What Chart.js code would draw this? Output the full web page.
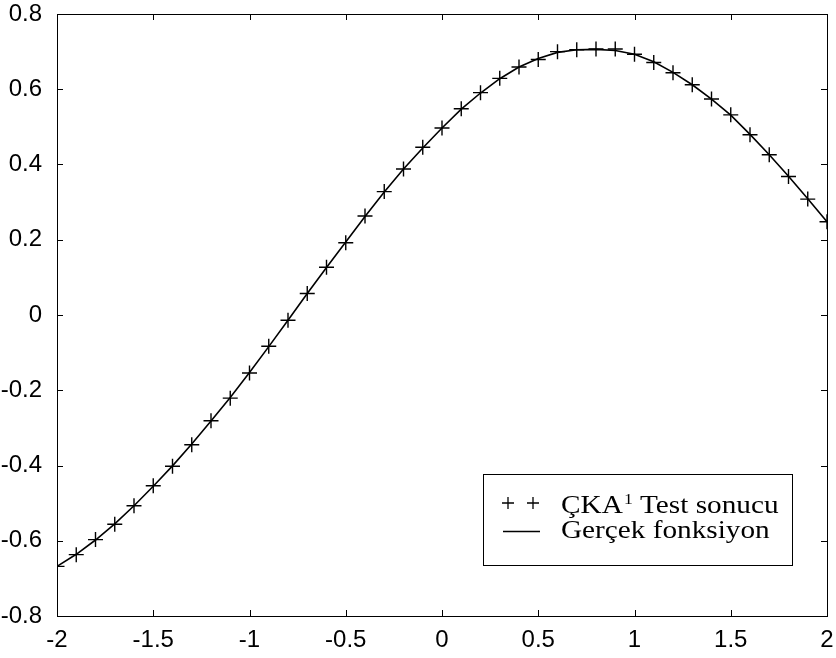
<!DOCTYPE html>
<html>
<head>
<meta charset="utf-8">
<script src="https://cdn.jsdelivr.net/npm/chart.js@4/dist/chart.umd.min.js"></script>
<style>
  html, body { margin: 0; padding: 0; background: #fff; }
  #c { display: block; }
</style>
</head>
<body>
<canvas id="c" width="836" height="658"></canvas>
<script>
// x positions of the test points
const xVals = [
  -2.0, -1.9, -1.8, -1.7, -1.6, -1.5, -1.4, -1.3, -1.2, -1.1,
  -1.0, -0.9, -0.8, -0.7, -0.6, -0.5, -0.4, -0.3, -0.2, -0.1,
   0.0,  0.1,  0.2,  0.3,  0.4,  0.5,  0.6,  0.7,  0.8,  0.9,
   1.0,  1.1,  1.2,  1.3,  1.4,  1.5,  1.6,  1.7,  1.8,  1.9, 2.0
];
// ÇKA test result (+ markers)
const testY = [
  -0.668, -0.637, -0.597, -0.556, -0.507, -0.454, -0.402, -0.345, -0.281, -0.221,
  -0.154, -0.083, -0.014,  0.057,  0.127,  0.192,  0.263,  0.328,  0.388,  0.446,
   0.497,  0.548,  0.591,  0.629,  0.659,  0.679,  0.700,  0.705,  0.707,  0.707,
   0.693,  0.671,  0.644,  0.612,  0.574,  0.532,  0.479,  0.426,  0.368,  0.308, 0.248
];
// real function (solid line)
const realY = [
  -0.668, -0.636, -0.598, -0.555, -0.507, -0.455, -0.401, -0.343, -0.282, -0.219,
  -0.153, -0.084, -0.014,  0.057,  0.126,  0.194,  0.262,  0.327,  0.388,  0.444,
   0.497,  0.547,  0.590,  0.628,  0.659,  0.682,  0.698,  0.705,  0.706,  0.703,
   0.693,  0.673,  0.645,  0.612,  0.574,  0.531,  0.480,  0.426,  0.369,  0.309, 0.248
];
const xTicks = [-2, -1.5, -1, -0.5, 0, 0.5, 1, 1.5, 2];
const yTicks = [-0.8, -0.6, -0.4, -0.2, 0, 0.2, 0.4, 0.6, 0.8];

const legendItems = ['ÇKA', '1', ' Test sonucu', 'Gerçek fonksiyon'];

const pts = (ys) => xVals.map((x, i) => ({ x, y: ys[i] }));
const fmt = v => String(Math.round(v * 10) / 10);
const tickFont = { family: 'Liberation Sans, Arial, sans-serif', size: 24 };
const serif = 'Liberation Serif, Times New Roman, serif';

// box + inward tick marks on all four sides, MATLAB style
const framePlugin = {
  id: 'frame',
  afterDraw(chart) {
    const { ctx, chartArea: a, scales } = chart;
    const len = 6;
    ctx.save();
    ctx.strokeStyle = '#000';
    ctx.lineWidth = 1;
    ctx.strokeRect(a.left + 0.5, a.top + 0.5, a.right - a.left, a.bottom - a.top);
    ctx.beginPath();
    for (const v of xTicks) {
      const px = Math.round(scales.x.getPixelForValue(v)) + 0.5;
      ctx.moveTo(px, a.bottom); ctx.lineTo(px, a.bottom - len);
      ctx.moveTo(px, a.top); ctx.lineTo(px, a.top + len);
    }
    for (const v of yTicks) {
      const py = Math.round(scales.y.getPixelForValue(v)) + 0.5;
      ctx.moveTo(a.left, py); ctx.lineTo(a.left + len, py);
      ctx.moveTo(a.right, py); ctx.lineTo(a.right - len, py);
    }
    ctx.stroke();

    // legend box, bottom right inside the axes
    const bx = a.right - 35, by = a.bottom - 51;
    const bw = 309, bh = 91;
    const x0 = Math.round(bx - bw), y0 = Math.round(by - bh);
    ctx.fillStyle = '#fff';
    ctx.fillRect(x0, y0, bw, bh);
    ctx.strokeRect(x0 + 0.5, y0 + 0.5, bw, bh);

    // symbols
    ctx.lineWidth = 1.3;
    ctx.beginPath();
    for (const cx of [x0 + 25, x0 + 50]) {
      ctx.moveTo(cx - 6, y0 + 29); ctx.lineTo(cx + 6, y0 + 29);
      ctx.moveTo(cx, y0 + 23); ctx.lineTo(cx, y0 + 35);
    }
    ctx.moveTo(x0 + 20, y0 + 57.5); ctx.lineTo(x0 + 57, y0 + 57.5);
    ctx.stroke();

    // text, slightly stretched like the scanned original
    const sx = 1.17;
    ctx.fillStyle = '#000';
    ctx.textBaseline = 'alphabetic';
    ctx.textAlign = 'left';
    ctx.scale(sx, 1);
    let tx = (x0 + 78) / sx;
    ctx.font = '25px ' + serif;
    ctx.fillText(legendItems[0], tx, y0 + 39);
    tx += ctx.measureText(legendItems[0]).width + 1;
    ctx.font = '15px ' + serif;
    ctx.fillText(legendItems[1], tx, y0 + 30);
    tx += ctx.measureText(legendItems[1]).width;
    ctx.font = '25px ' + serif;
    ctx.fillText(legendItems[2], tx, y0 + 39);
    ctx.fillText(legendItems[3], (x0 + 78) / sx, y0 + 64);
    ctx.restore();
  }
};

new Chart(document.getElementById('c'), {
  type: 'line',
  data: {
    datasets: [
      {
        label: 'Gerçek fonksiyon',
        data: pts(realY),
        borderColor: '#000',
        borderWidth: 1.6,
        pointRadius: 0,
        tension: 0,
        fill: false,
        order: 2
      },
      {
        label: 'ÇKA Test sonucu',
        data: pts(testY),
        showLine: false,
        pointStyle: 'cross',
        pointRadius: 7.5,
        pointBorderWidth: 1.4,
        borderColor: '#000',
        backgroundColor: '#000',
        order: 1
      }
    ]
  },
  options: {
    responsive: false,
    animation: false,
    layout: { padding: { top: 14, right: 9, left: 0, bottom: 0 } },
    plugins: {
      legend: { display: false },
      tooltip: { enabled: false }
    },
    scales: {
      x: {
        type: 'linear',
        min: -2, max: 2,
        grid: { display: false },
        border: { display: false },
        afterBuildTicks: s => { s.ticks = xTicks.map(v => ({ value: v })); },
        afterFit: s => { s.height = 42; s.paddingLeft = 0; s.paddingRight = 0; },
        ticks: {
          color: '#000',
          padding: 2,
          maxRotation: 0,
          autoSkip: false,
          font: tickFont,
          callback: v => fmt(v)
        }
      },
      y: {
        type: 'linear',
        min: -0.8, max: 0.8,
        grid: { display: false },
        border: { display: false },
        afterBuildTicks: s => { s.ticks = yTicks.map(v => ({ value: v })); },
        afterFit: s => { s.width = 57; s.paddingTop = 0; s.paddingBottom = 0; },
        ticks: {
          color: '#000',
          padding: 7,
          autoSkip: false,
          font: tickFont,
          callback: v => fmt(v)
        }
      }
    }
  },
  plugins: [framePlugin]
});
</script>
</body>
</html>
